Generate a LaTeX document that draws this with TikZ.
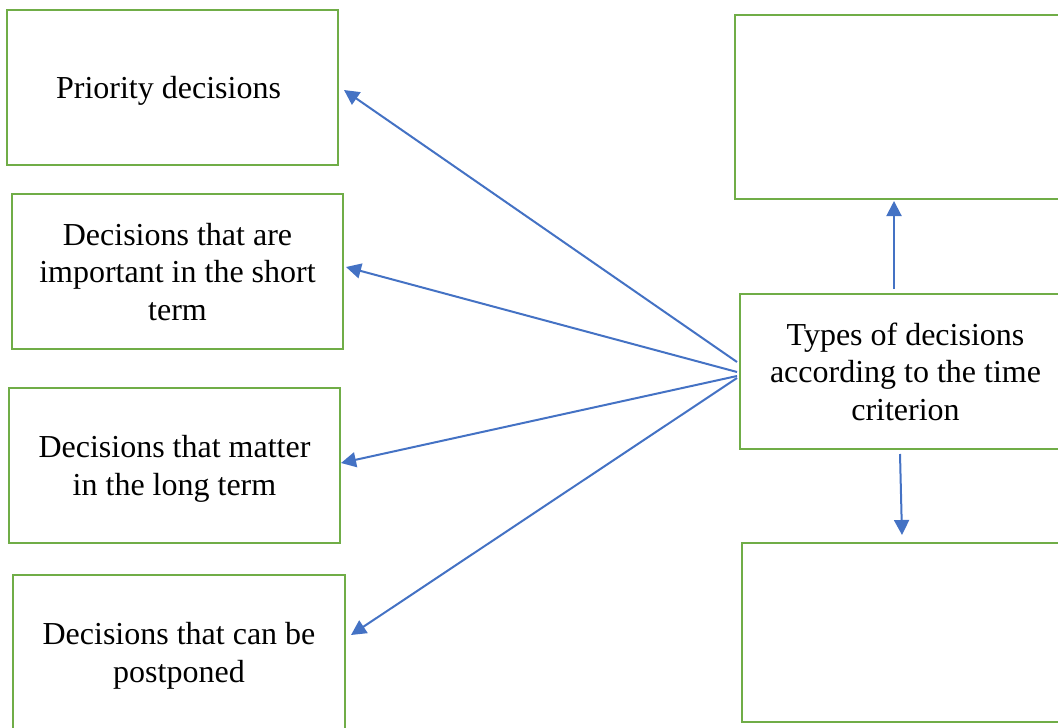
\documentclass[tikz,border=0pt]{standalone}
\usepackage{fontspec}
\setmainfont{Liberation Serif}
\usepackage{tikz}
\usetikzlibrary{
	positioning,
	arrows.meta,
	calc
}
\definecolor{boxgreen}{HTML}{70AD47}
\definecolor{arrowblue}{HTML}{4472C4}

\begin{document}
\begin{tikzpicture}[
				x=0.5pt, y=-0.5pt,
				block/.style={
					draw=boxgreen,
					line width=1pt,
					rectangle,
					minimum width=165.5pt,
					minimum height=77.5pt,
					align=center,
					inner sep=0pt,
					font=\fontsize{16}{18.75}\selectfont
				},
				arrow/.style={
					-{Triangle[length=7.5pt,width=7.5pt]},
					draw=arrowblue,
					line width=1pt
				}
				]
				
				\useasboundingbox (0,0) rectangle (1058,727);
				\clip (0,0) rectangle (1058,727);
				
				% left column
				\node[block, text depth=0pt] (prio) at (172.5,87.5) {
					Priority decisions
				};
				
				\node[block, below=13.5pt of prio, xshift=2.5pt, text depth=-2pt] (short) {
					Decisions that are\\
					important in the short\\
					term
				};
				
				\node[block, below=18.5pt of short, xshift=-1.5pt, text depth=-5pt] (long) {
					Decisions that matter\\
					in the long term
				};
				
				\node[block, below=15pt of long, xshift=2.25pt, minimum width=166pt, text depth=-5pt] (postp) {
					Decisions that can be\\
					postponed
				};
				
				% right column
				\node[block] (types) at (905.5,371.5) {
					Types of decisions\\
					according to the time\\
					criterion
				};
				
				\node[block, minimum height=92pt] (blanktop) at (900.5,107) {};
				
				\node[block, minimum height=89.5pt] (blankbot) at (907.5,632.5) {};
				
				\draw[arrow] ($(types.west)+(-2,-9.5)$) -- ($(prio.east)+(5,2.5)$);
				\draw[arrow] ($(types.west)+(-2,0.5)$) -- ($(short.east)+(2,-4.5)$);
				\draw[arrow] ($(types.west)+(-2,4.5)$) -- ($(long.east)+(0,-2.5)$);
				\draw[arrow] ($(types.west)+(-2,6.5)$) -- ($(postp.east)+(5,-17.5)$);
				\draw[arrow] ($(types.north)+(-11.5,-4)$) -- ($(blanktop.south)+(-6.5,1)$);
				\draw[arrow] ($(types.south)+(-5.5,4)$) -- ($(blankbot.north)+(-5.5,-7)$);
				
			\end{tikzpicture}
\end{document}
